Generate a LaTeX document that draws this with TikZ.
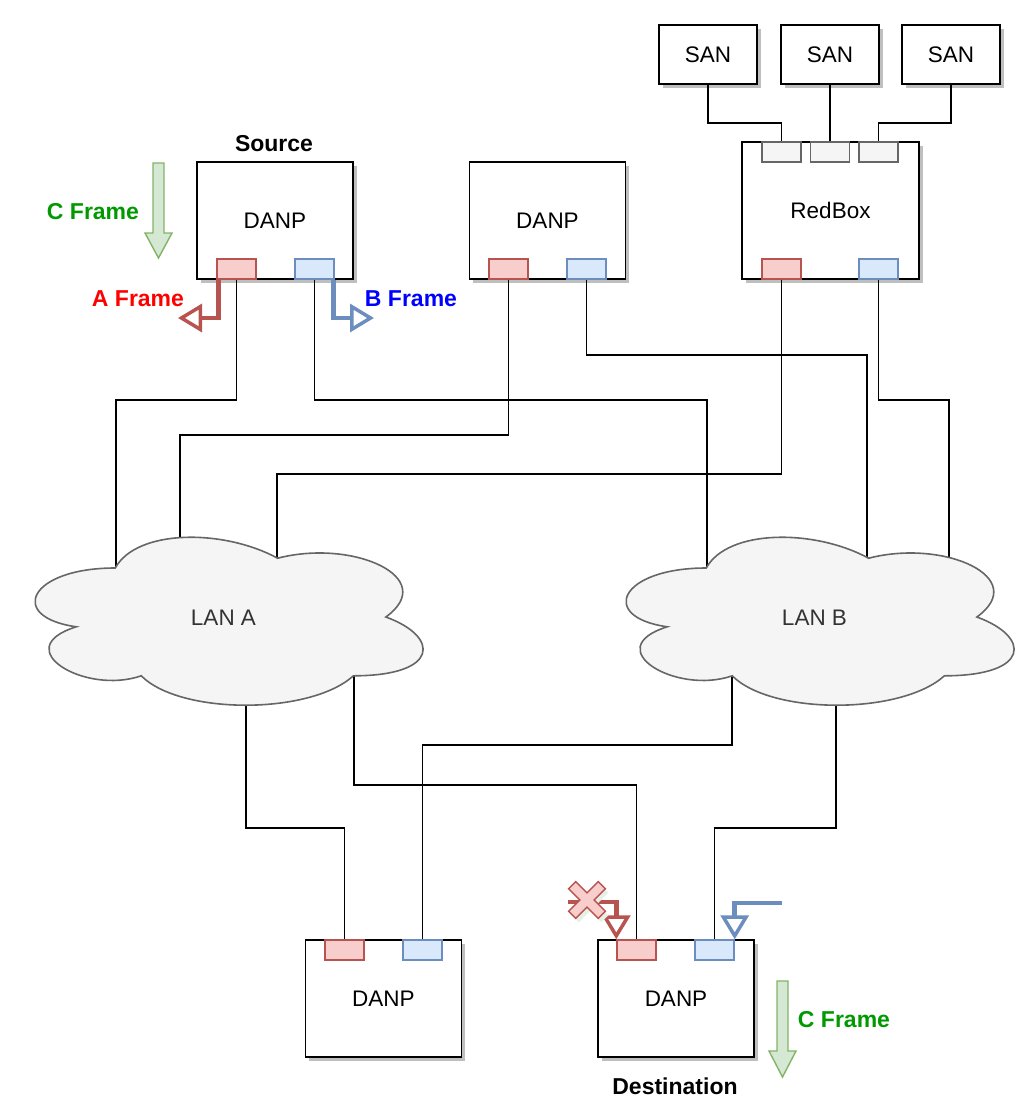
\documentclass[tikz,border=0pt]{standalone}
\usepackage{fontspec}
\setmainfont{Liberation Sans}
\usetikzlibrary{arrows.meta,shadows}
\definecolor{redfill}{HTML}{F8CECC}
\definecolor{redline}{HTML}{B85450}
\definecolor{bluefill}{HTML}{DAE8FC}
\definecolor{blueline}{HTML}{6C8EBF}
\definecolor{grayfill}{HTML}{F5F5F5}
\definecolor{grayline}{HTML}{666666}
\definecolor{greenfill}{HTML}{D5E8D4}
\definecolor{greenline}{HTML}{82B366}
\definecolor{txtgreen}{HTML}{009900}
\definecolor{clouddark}{HTML}{333333}
\newcommand\lancloud{(108.25,49) .. controls (21.65,49) and (0,98) .. (69.28,107.8)
  .. controls (0,129.36) and (77.94,176.4) .. (134.23,156.8)
  .. controls (173.2,196) and (303.1,196) .. (346.4,156.8)
  .. controls (433,156.8) and (433,117.6) .. (378.875,98)
  .. controls (433,58.8) and (346.4,19.6) .. (270.625,39.2)
  .. controls (216.5,9.8) and (129.9,9.8) .. (108.25,49) -- cycle}
\begin{document}
\begin{tikzpicture}[x=1pt,y=-1pt,
  every node/.style={font=\fontsize{22.5}{27}\selectfont},
  devbox/.style={draw, line width=1.7pt, fill=white, inner sep=0pt,
    drop shadow={shadow xshift=3.5pt, shadow yshift=-3.5pt, fill=black!25, opacity=1}},
  danp/.style={devbox, minimum width=156pt, minimum height=117pt},
  sanbox/.style={devbox, minimum width=98pt, minimum height=59pt},
  port/.style={draw, line width=1.4pt, minimum width=39pt, minimum height=20pt, inner sep=0pt},
  aport/.style={port, fill=redfill, draw=redline},
  bport/.style={port, fill=bluefill, draw=blueline},
  gport/.style={port, fill=grayfill, draw=grayline},
  conn/.style={line width=1.6pt, draw=black},
  cloudshape/.style={fill=grayfill, draw=grayline, line width=1.6pt},
  redflow/.style={draw=redline, line width=4.5pt,
    -{Triangle[open, length=24pt, width=28pt, line width=3.5pt]}},
  blueflow/.style={draw=blueline, line width=4.5pt,
    -{Triangle[open, length=24pt, width=28pt, line width=3.5pt]}},
  cblock/.style={fill=greenfill, draw=greenline, line width=1.4pt},
  lbl/.style={font=\fontsize{23}{27}\selectfont\bfseries}
]
\useasboundingbox (0,0) rectangle (1032,1106);

% ---------- nodes: devices ----------
\node[danp] (src) at (275,220.5) {DANP};
\node[danp] (mid) at (547.5,220.5) {DANP};
\node[devbox, minimum width=177pt, minimum height=137pt] (rb) at (830.5,210.5) {RedBox};
\node[sanbox] (san1) at (708,54.5) {SAN};
\node[sanbox] (san2) at (830,54.5) {SAN};
\node[sanbox] (san3) at (951,54.5) {SAN};
\node[danp] (bl) at (383.5,998.5) {DANP};
\node[danp] (dst) at (676,998.5) {DANP};

% ---------- ports ----------
\node[aport] (srcR) at (236.5,269) {};
\node[bport] (srcB) at (314.5,269) {};
\node[aport] (midR) at (508.5,269) {};
\node[bport] (midB) at (586.5,269) {};
\node[gport] (rbT1) at (781.5,152) {};
\node[gport] (rbT2) at (830,152) {};
\node[gport] (rbT3) at (878.5,152) {};
\node[aport] (rbR) at (781.5,269) {};
\node[bport] (rbB) at (878.5,269) {};
\node[aport] (blR) at (344.5,950) {};
\node[bport] (blB) at (422.5,950) {};
\node[aport] (dR) at (636.5,950) {};
\node[bport] (dB) at (714.5,950) {};

% cloud centres
\coordinate (lanA) at (223.5,618);
\coordinate (lanB) at (814.5,618);

% ---------- connectors ----------
\draw[conn] (san1.south) -- (708,123) -| (rbT1.north);
\draw[conn] (san2.south) -- (rbT2.north);
\draw[conn] (san3.south) -- (951,123) -| (rbT3.north);

\draw[conn] (srcR.south) |- (116,400) -- (116,400 |- lanA);
\draw[conn] (srcB.south) |- (707,400) -- (707,400 |- lanB);
\draw[conn] (midR.south) |- (180,435) -- (180,435 |- lanA);
\draw[conn] (midB.south) |- (867,355) -- (867,355 |- lanB);
\draw[conn] (rbR.south) |- (277,474) -- (277,474 |- lanA);
\draw[conn] (rbB.south) |- (949,400) -- (949,400 |- lanB);

\draw[conn] (246,617 |- lanA) -- (246,828) -| (blR.north);
\draw[conn] (354,617 |- lanA) -- (354,785) -| (dR.north);
\draw[conn] (732,617 |- lanB) -- (732,745) -| (blB.north);
\draw[conn] (836,617 |- lanB) -- (836,828) -| (dB.north);

% ---------- clouds ----------
\begin{scope}[shift={(7,519)}]
  \path[cloudshape] \lancloud;
\end{scope}
\begin{scope}[shift={(598,519)}]
  \path[cloudshape] \lancloud;
\end{scope}
\node[text=clouddark] (lanAtxt) at (lanA) {LAN A};
\node[text=clouddark] (lanBtxt) at (lanB) {LAN B};

% ---------- flow arrows ----------
\draw[redflow] (srcR.south west) ++(2,0) coordinate (aStart) |- (178,318);
\draw[blueflow] (srcB.south east) ++(-1,0) coordinate (bStart) |- (374,318);

\draw[redflow] (568,902) -| (dR.north west);
\draw[blueflow] (782,903) -| (dB.north east);

% failed mark
\begin{scope}[shift={(590,904)}, rotate=45]
  \fill[greenfill!60] (-21,-5) -- (-5,-5) -- (-5,-21) -- (5,-21) -- (5,-5) -- (21,-5)
    -- (21,5) -- (5,5) -- (5,21) -- (-5,21) -- (-5,5) -- (-21,5) -- cycle;
\end{scope}
\begin{scope}[shift={(587,900)}, rotate=45]
  \path[fill=redfill, draw=redline, line width=1.4pt] (-21,-5) -- (-5,-5) -- (-5,-21) -- (5,-21) -- (5,-5) -- (21,-5)
    -- (21,5) -- (5,5) -- (5,21) -- (-5,21) -- (-5,5) -- (-21,5) -- cycle;
\end{scope}

% C frame block arrows
\path[cblock] (153,163) -- (164,163) -- (164,233) -- (172,233) -- (158.5,258) -- (145,233) -- (153,233) -- cycle;
\path[cblock] (777,981) -- (788,981) -- (788,1051) -- (796,1051) -- (782.5,1077) -- (769,1051) -- (777,1051) -- cycle;

% ---------- labels ----------
\node[lbl] (srcLbl) at (274,144) {Source};
\node[lbl] (dstLbl) at (675,1086) {Destination};
\node[lbl, text=txtgreen] (cTop) at (93,212) {C Frame};
\node[lbl, text=txtgreen] (cBot) at (844,1020) {C Frame};
\node[lbl, text=red] (aLbl) at (138,299) {A Frame};
\node[lbl, text=blue] (bLbl) at (411,299) {B Frame};
\end{tikzpicture}
\end{document}
